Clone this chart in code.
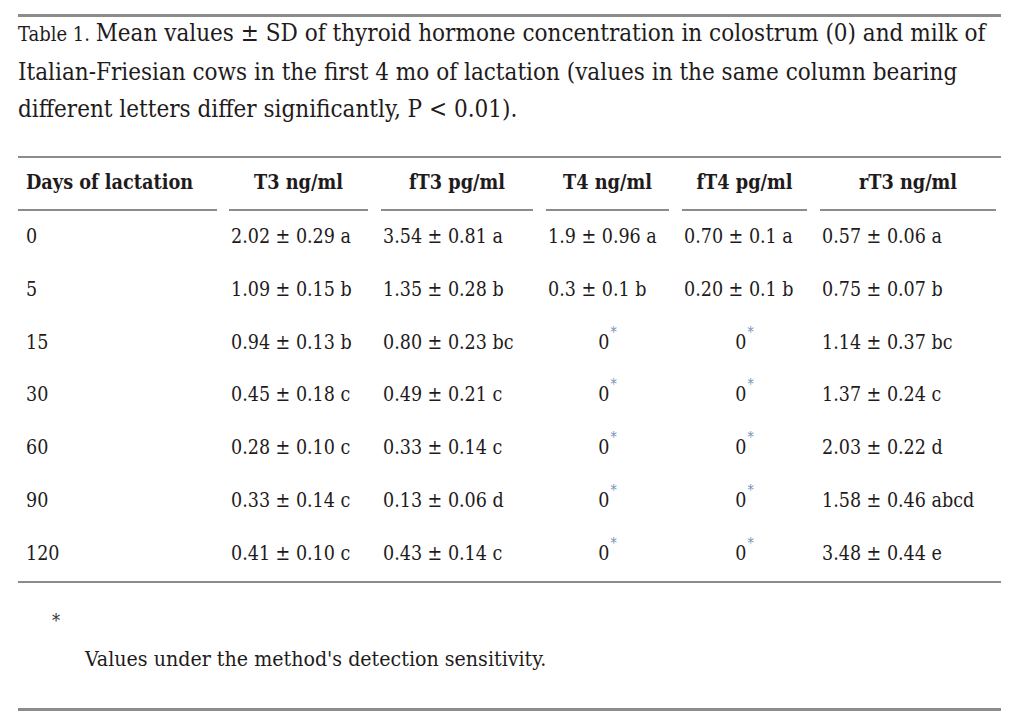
<!DOCTYPE html>
<html>
<head>
<meta charset="utf-8">
<!-- The reference is a data table, not a chart, so it is built as an HTML table.
     Chart.js is loaded as asked but draws nothing here. -->
<script src="https://cdn.jsdelivr.net/npm/chart.js@4.4.1/dist/chart.umd.min.js"></script>
<style>
  html, body { margin: 0; padding: 0; background: #fff; }
  #page {
    position: relative; width: 1014px; height: 720px; overflow: hidden;
    font-family: "DejaVu Serif", "Liberation Serif", serif;
    font-stretch: condensed; color: #1f1b1c;
  }
  .rule { position: absolute; left: 18px; width: 983px; background: #8c8c8c; }
  #caption {
    position: absolute; left: 18px; top: 15px; white-space: nowrap;
    font-size: 24px; line-height: 37.5px;
  }
  #caption .lbl { font-size: 20px; }
  #tbl {
    position: absolute; left: 18px; top: 158px;
    border-collapse: separate; border-spacing: 0; table-layout: fixed;
  }
  #tbl th, #tbl td { padding: 0; vertical-align: top; }
  #tbl th .in {
    height: 51px; line-height: 50px; border-bottom: 2px solid #8c8c8c;
    font-weight: bold; font-size: 19.7px; text-align: center; white-space: nowrap;
  }
  #tbl th.first .in { text-align: left; padding-left: 8px; box-sizing: content-box; }
  #tbl td .in {
    height: 52.8px; line-height: 52.8px; font-size: 19.5px; white-space: nowrap;
    padding-left: 2px;
  }
  #tbl td.first .in { padding-left: 8px; }
  #tbl td .in.zero { text-align: center; padding-left: 0; }
  .ast { color: #6f93b8; font-size: 14px; position: relative; top: -12px; margin-left: 1px; }
  #fnmark { position: absolute; left: 52px; top: 610px; font-size: 18px; color: #333; }
  #fntext { position: absolute; left: 85px; top: 646px; font-size: 21.2px; white-space: nowrap; }
</style>
</head>
<body>
<div id="page">
  <div class="rule" style="top:14px;height:3px"></div>
  <div id="caption"></div>
  <div class="rule" style="top:156px;height:2px"></div>
  <table id="tbl"><thead><tr id="hrow"></tr></thead><tbody id="tbody"></tbody></table>
  <div class="rule" style="top:581px;height:2px"></div>
  <div id="fnmark">*</div>
  <div id="fntext"></div>
  <div class="rule" style="top:708px;height:3px"></div>
</div>
<script>
// ---- data -------------------------------------------------------------
var captionLabel = "Table 1.";
var captionLines = [
  "Mean values \u00b1 SD of thyroid hormone concentration in colostrum (0) and milk of",
  "Italian-Friesian cows in the first 4 mo of lactation (values in the same column bearing",
  "different letters differ significantly, P < 0.01)."
];
var headers = ["Days of lactation", "T3 ng/ml", "fT3 pg/ml", "T4 ng/ml", "fT4 pg/ml", "rT3 ng/ml"];
var days = ["0", "5", "15", "30", "60", "90", "120"];
var t3  = ["2.02 \u00b1 0.29 a", "1.09 \u00b1 0.15 b", "0.94 \u00b1 0.13 b", "0.45 \u00b1 0.18 c", "0.28 \u00b1 0.10 c", "0.33 \u00b1 0.14 c", "0.41 \u00b1 0.10 c"];
var ft3 = ["3.54 \u00b1 0.81 a", "1.35 \u00b1 0.28 b", "0.80 \u00b1 0.23 bc", "0.49 \u00b1 0.21 c", "0.33 \u00b1 0.14 c", "0.13 \u00b1 0.06 d", "0.43 \u00b1 0.14 c"];
var t4  = ["1.9 \u00b1 0.96 a", "0.3 \u00b1 0.1 b", "0*", "0*", "0*", "0*", "0*"];
var ft4 = ["0.70 \u00b1 0.1 a", "0.20 \u00b1 0.1 b", "0*", "0*", "0*", "0*", "0*"];
var rt3 = ["0.57 \u00b1 0.06 a", "0.75 \u00b1 0.07 b", "1.14 \u00b1 0.37 bc", "1.37 \u00b1 0.24 c", "2.03 \u00b1 0.22 d", "1.58 \u00b1 0.46 abcd", "3.48 \u00b1 0.44 e"];
var footnote = "Values under the method's detection sensitivity.";

// ---- layout (column cell width, underline width) -------------------------
var colWidth = [211, 152, 165, 136, 138, 181];
var lineWidth = [199, 139, 152, 123, 125, 176];

(function () {
  function el(tag, className, text) {
    var node = document.createElement(tag);
    if (className) node.className = className;
    if (text != null) node.textContent = text;
    return node;
  }

  var cap = document.getElementById("caption");
  cap.appendChild(el("span", "lbl", captionLabel + " "));
  captionLines.forEach(function (line, i) {
    if (i > 0) cap.appendChild(document.createElement("br"));
    cap.appendChild(document.createTextNode(line));
  });

  var hrow = document.getElementById("hrow");
  headers.forEach(function (h, i) {
    var th = el("th", i === 0 ? "first" : null);
    th.style.width = colWidth[i] + "px";
    var inner = el("div", "in", h);
    inner.style.width = (i === 0 ? lineWidth[i] - 8 : lineWidth[i]) + "px";
    th.appendChild(inner);
    hrow.appendChild(th);
  });

  var cols = [days, t3, ft3, t4, ft4, rt3];
  var tbody = document.getElementById("tbody");
  days.forEach(function (_, r) {
    var tr = document.createElement("tr");
    cols.forEach(function (col, c) {
      var td = el("td", c === 0 ? "first" : null);
      td.style.width = colWidth[c] + "px";
      var v = col[r];
      var inner = el("div", "in");
      if (v.slice(-1) === "*") {
        inner.className = "in zero";
        inner.style.width = lineWidth[c] + "px";
        inner.appendChild(document.createTextNode(v.slice(0, -1)));
        inner.appendChild(el("span", "ast", "*"));
      } else {
        inner.textContent = v;
      }
      td.appendChild(inner);
      tr.appendChild(td);
    });
    tbody.appendChild(tr);
  });

  document.getElementById("fntext").textContent = footnote;
})();
</script>
</body>
</html>
